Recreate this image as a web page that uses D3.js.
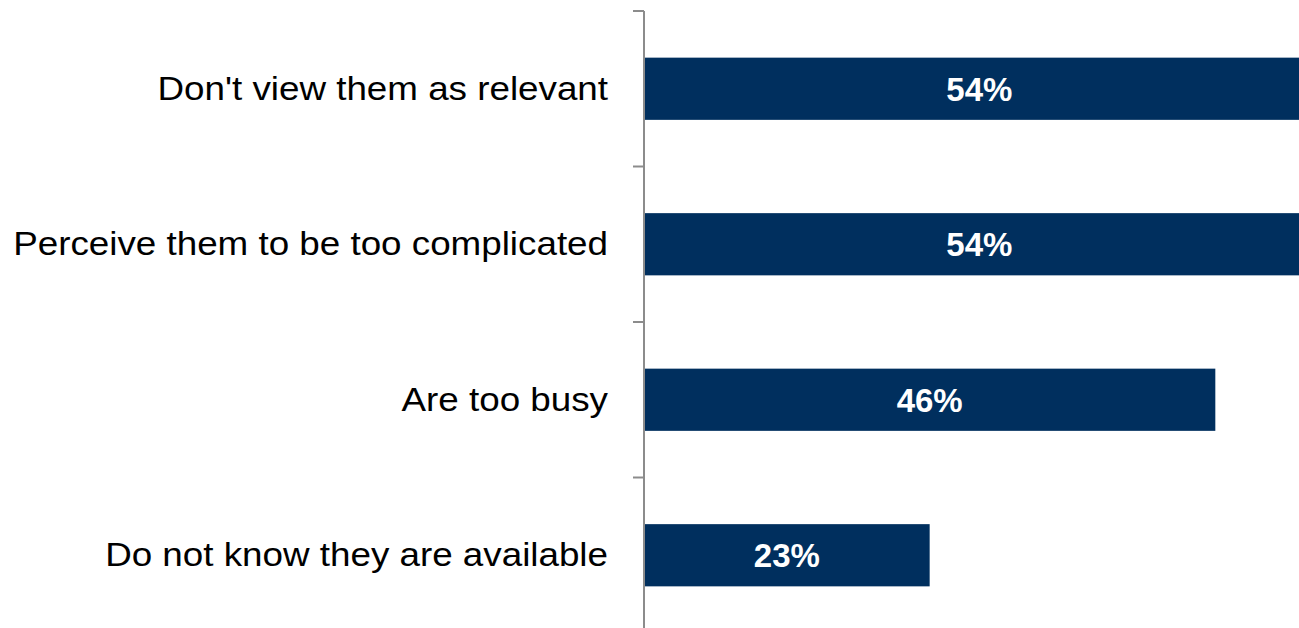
<!DOCTYPE html>
<html>
<head>
<meta charset="utf-8">
<script src="https://cdn.jsdelivr.net/npm/d3@7"></script>
<style>
  html, body { margin: 0; padding: 0; background: #fff; }
  svg { display: block; }
</style>
</head>
<body>
<svg id="chart" width="1299" height="628"></svg>
<script>
const categories = [
  "Don't view them as relevant",
  "Perceive them to be too complicated",
  "Are too busy",
  "Do not know they are available"
];
const values = [54, 54, 46, 23];
const valueLabels = ["54%", "54%", "46%", "23%"];

const W = 1299, H = 628;
const svg = d3.select("#chart");
const axisX = 644;

const x = d3.scaleLinear().domain([0, 60]).range([axisX, axisX + 60 * 12.42]);
const y = d3.scaleBand().domain(categories).range([11, 633]).paddingInner(0.6).paddingOuter(0.3);

// bars
svg.append("g").selectAll("rect")
  .data(categories)
  .join("rect")
  .attr("x", x(0) + 1)
  .attr("y", d => y(d))
  .attr("width", (d, i) => x(values[i]) - x(0) - 1)
  .attr("height", y.bandwidth())
  .attr("fill", "#002F5E");

// value labels
svg.append("g").selectAll("text")
  .data(categories)
  .join("text")
  .attr("x", (d, i) => (x(0) + x(values[i])) / 2)
  .attr("y", d => y(d) + y.bandwidth() / 2)
  .attr("dy", "0.36em")
  .attr("text-anchor", "middle")
  .attr("fill", "#fff")
  .attr("font-family", "'Liberation Sans', Arial, sans-serif")
  .attr("font-weight", "bold")
  .attr("font-size", "33px")
  .text((d, i) => valueLabels[i]);

// axis with category labels
const sx = 1.082;
const axis = svg.append("g")
  .attr("transform", `translate(${axisX},0)`)
  .call(d3.axisLeft(y).tickSize(0).tickPadding(0));
axis.select(".domain").remove();
axis.selectAll("text")
  .attr("font-family", "'Liberation Sans', Arial, sans-serif")
  .attr("font-size", "34px")
  .attr("fill", "#000")
  .attr("x", -36 / sx)
  .attr("transform", `scale(${sx},1)`);

// axis line and boundary ticks
const g = svg.append("g");
const r0 = y.range()[0], step = y.step();
g.append("line")
  .attr("x1", axisX).attr("x2", axisX)
  .attr("y1", r0).attr("y2", r0 + step * categories.length)
  .attr("stroke", "#8c8c8c").attr("stroke-width", 2);
g.selectAll("line.tick")
  .data(d3.range(categories.length + 1))
  .join("line")
  .attr("class", "tick")
  .attr("x1", axisX - 11).attr("x2", axisX)
  .attr("y1", i => r0 + i * step).attr("y2", i => r0 + i * step)
  .attr("stroke", "#8c8c8c").attr("stroke-width", 2);
</script>
</body>
</html>
